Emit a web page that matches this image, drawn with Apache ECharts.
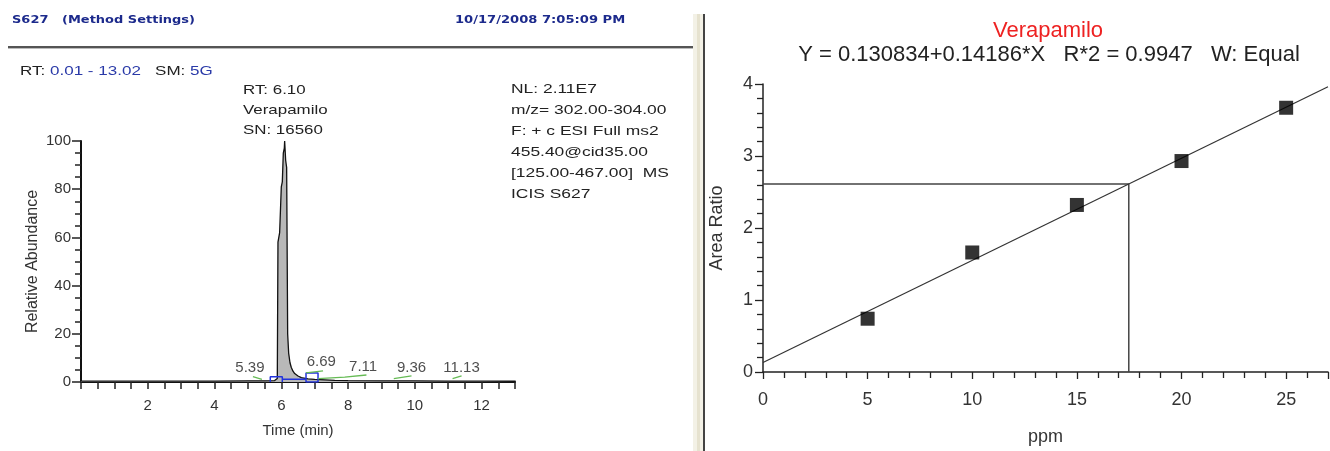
<!DOCTYPE html>
<html>
<head>
<meta charset="utf-8">
<script src="https://cdn.jsdelivr.net/npm/echarts@6/dist/echarts.min.js"></script>
<style>
  html, body { margin: 0; padding: 0; background: #fff; }
  #chart { width: 1330px; height: 451px; }
</style>
</head>
<body>
<div id="chart"></div>
<script>
// chromatogram trace (time in min, relative abundance %)
const traceTime = [0.01, 1, 2, 3, 4, 5, 5.5, 5.8, 5.88, 5.9, 5.95, 6.0, 6.03, 6.06, 6.09, 6.1, 6.13, 6.16, 6.19, 6.22, 6.26, 6.3, 6.35, 6.4, 6.5, 6.6, 6.8, 7.0, 7.3, 7.6, 8, 9, 10, 11, 12, 13.02];
const traceAbund = [0.4, 0.4, 0.4, 0.4, 0.4, 0.5, 0.5, 0.6, 1.5, 58, 62, 81, 83, 95, 97, 100, 92, 89, 20, 12, 8, 6, 4.5, 3.5, 2.5, 1.8, 1.3, 1.1, 0.9, 0.7, 0.6, 0.5, 0.5, 0.4, 0.4, 0.4];

// peak labels: RT text, where the label sits (t, abundance)
const peakRT = [5.39, 6.69, 7.11, 9.36, 11.13];
const peakLabelT = [5.06, 7.2, 8.45, 9.9, 11.4];
const peakLabelY = [2.8, 5.2, 3.2, 2.8, 2.8];

// green integration baselines [t, y]
const greenSegs = [
  [[5.15, 2.2], [5.42, 1.1]],
  [[6.74, 3.8], [7.25, 4.6]],
  [[7.1, 1.4], [7.9, 2.0], [8.55, 2.9]],
  [[9.37, 1.4], [9.9, 2.5]],
  [[11.13, 1.4], [11.4, 2.5]]
];
// blue peak boundary boxes [t, y]
const blueBox = [
  [5.67, 0], [5.67, 2.2], [6.03, 2.2], [6.03, 0], [6.03, 1.1], [6.74, 1.1],
  [6.74, 3.7], [7.1, 3.7], [7.1, 0], [6.74, 0], [6.74, 1.1]
];

// calibration
const calX = [5, 10, 15, 20, 25];
const calY = [0.74, 1.66, 2.32, 2.93, 3.67];
const fitA = 0.130834;
const fitB = 0.14186;
const unknownX = 17.48;
const fitRange = [0, 27];

const chart = echarts.init(document.getElementById('chart'));
const font = 'Liberation Sans, Arial, sans-serif';

const trace = traceTime.map((t, i) => [t, traceAbund[i]]);
const fitLine = fitRange.map(x => [x, fitA + fitB * x]);
const unknownY = fitA + fitB * unknownX;
const crossLine = [[0, unknownY], [unknownX, unknownY], [unknownX, 0]];

const series = [
  {
    type: 'line', xAxisIndex: 0, yAxisIndex: 0, data: trace, symbol: 'none',
    lineStyle: { color: '#111', width: 1.3 },
    areaStyle: { color: '#b8b8b8', opacity: 1 },
    z: 3
  },
  {
    type: 'line', xAxisIndex: 0, yAxisIndex: 0, data: blueBox, symbol: 'none',
    lineStyle: { color: '#2233dd', width: 1.5 }, z: 4
  },
  {
    type: 'scatter', xAxisIndex: 0, yAxisIndex: 0, symbolSize: 0,
    data: peakRT.map((t, i) => [peakLabelT[i], peakLabelY[i]]),
    label: {
      show: true, position: 'top', distance: 0, color: '#222',
      fontFamily: font, fontSize: 15,
      formatter: p => peakRT[p.dataIndex].toFixed(2)
    }, z: 5
  }
];
greenSegs.forEach(seg => {
  series.push({
    type: 'line', xAxisIndex: 0, yAxisIndex: 0, data: seg, symbol: 'none',
    lineStyle: { color: '#66bb55', width: 1.3 }, z: 4
  });
});
series.push(
  {
    type: 'line', xAxisIndex: 1, yAxisIndex: 1, data: crossLine, symbol: 'none',
    lineStyle: { color: '#444', width: 1.5 }, z: 2
  },
  {
    type: 'line', xAxisIndex: 1, yAxisIndex: 1, data: fitLine, symbol: 'none',
    lineStyle: { color: '#333', width: 1.2 }, z: 3
  },
  {
    type: 'scatter', xAxisIndex: 1, yAxisIndex: 1,
    data: calX.map((x, i) => [x, calY[i]]),
    symbol: 'rect', symbolSize: 14, itemStyle: { color: '#000' }, z: 4
  }
);

const leftAxisText = { color: '#333', fontFamily: font, fontSize: 15 };
const rightAxisText = { color: '#333', fontFamily: font, fontSize: 18 };
const hdrFont = 'bold 11px Tahoma, DejaVu Sans, sans-serif';
const noteFont = '13px ' + font;

chart.setOption({
  animation: false,
  textStyle: { fontFamily: font },
  grid: [
    { left: 81, top: 141, width: 434, height: 241 },
    { left: 763, top: 84, width: 565, height: 292 }
  ],
  xAxis: [
    {
      gridIndex: 0, type: 'value', min: 0, max: 13, interval: 2,
      name: 'Time (min)', nameLocation: 'middle', nameGap: 41,
      nameTextStyle: leftAxisText,
      axisLine: { lineStyle: { color: '#111', width: 2 } },
      axisTick: { show: true, length: 7, lineStyle: { color: '#222', width: 1.5 } },
      minorTick: { show: true, splitNumber: 4, length: 7, lineStyle: { color: '#222', width: 1.5 } },
      axisLabel: { ...leftAxisText, margin: 16, showMinLabel: false, showMaxLabel: false },
      splitLine: { show: false }
    },
    {
      gridIndex: 1, type: 'value', min: 0, max: 27, interval: 5,
      name: 'ppm', nameLocation: 'middle', nameGap: 56,
      nameTextStyle: rightAxisText,
      axisLine: { lineStyle: { color: '#222', width: 1.5 } },
      axisTick: { show: true, length: 7, lineStyle: { color: '#222', width: 1.3 } },
      minorTick: { show: true, splitNumber: 5, length: 6, lineStyle: { color: '#222', width: 1.3 } },
      axisLabel: { ...rightAxisText, margin: 19, showMaxLabel: false },
      splitLine: { show: false }
    }
  ],
  yAxis: [
    {
      gridIndex: 0, type: 'value', min: 0, max: 100, interval: 20,
      name: 'Relative Abundance', nameLocation: 'middle', nameGap: 40,
      nameTextStyle: { ...leftAxisText, fontSize: 16 },
      axisLine: { lineStyle: { color: '#111', width: 2 } },
      axisTick: { show: true, length: 9, lineStyle: { color: '#222', width: 1.5 } },
      minorTick: { show: true, splitNumber: 4, length: 6, lineStyle: { color: '#222', width: 1.5 } },
      axisLabel: { ...leftAxisText, margin: 10 },
      splitLine: { show: false }
    },
    {
      gridIndex: 1, type: 'value', min: 0, max: 4, interval: 1,
      name: 'Area Ratio', nameLocation: 'middle', nameGap: 37,
      nameTextStyle: rightAxisText,
      axisLine: { lineStyle: { color: '#222', width: 1.5 } },
      axisTick: { show: true, length: 8, lineStyle: { color: '#222', width: 1.3 } },
      minorTick: { show: true, splitNumber: 5, length: 6, lineStyle: { color: '#222', width: 1.3 } },
      axisLabel: { ...rightAxisText, margin: 10 },
      splitLine: { show: false }
    }
  ],
  graphic: [
    // header
    { type: 'text', x: 12, y: 15, scaleX: 1.18, style: { text: 'S627   (Method Settings)', fill: '#1c2a8c', font: hdrFont } },
    { type: 'text', x: 455, y: 15, scaleX: 1.19, style: { text: '10/17/2008 7:05:09 PM', fill: '#1c2a8c', font: hdrFont } },
    { type: 'rect', shape: { x: 8, y: 46, width: 686, height: 2 }, style: { fill: '#555' } },
    { type: 'rect', shape: { x: 8, y: 48, width: 686, height: 1 }, style: { fill: '#bbb' } },
    // panel separator
    { type: 'rect', shape: { x: 693, y: 14, width: 10, height: 437 }, style: { fill: '#f3f1e6' } },
    { type: 'rect', shape: { x: 697, y: 14, width: 3, height: 437 }, style: { fill: '#e6e2cf' } },
    { type: 'rect', shape: { x: 703, y: 14, width: 2, height: 437 }, style: { fill: '#444' } },
    // left annotations
    {
      type: 'text', x: 20, y: 65, scaleX: 1.31,
      style: { text: '{k|RT: }{v|0.01 - 13.02}{k|   SM: }{v|5G}', rich: { k: { fill: '#222', font: noteFont }, v: { fill: '#2a3aa8', font: noteFont } } }
    },
    { type: 'text', x: 243, y: 80, scaleX: 1.3, style: { text: 'RT: 6.10\nVerapamilo\nSN: 16560', fill: '#222', font: noteFont, lineHeight: 20 } },
    { type: 'text', x: 511, y: 79, scaleX: 1.34, style: { text: 'NL: 2.11E7\nm/z= 302.00-304.00\nF: + c ESI Full ms2\n455.40@cid35.00\n[125.00-467.00]  MS\nICIS S627', fill: '#222', font: noteFont, lineHeight: 21 } },
    // right titles
    { type: 'text', x: 1048, y: 31, style: { text: 'Verapamilo', fill: '#ee2222', font: '22px ' + font, align: 'center', verticalAlign: 'middle' } },
    { type: 'text', x: 1049, y: 55, style: { text: 'Y = 0.130834+0.14186*X   R*2 = 0.9947   W: Equal', fill: '#222', font: '22px ' + font, align: 'center', verticalAlign: 'middle' } }
  ],
  series: series
});
</script>
</body>
</html>
